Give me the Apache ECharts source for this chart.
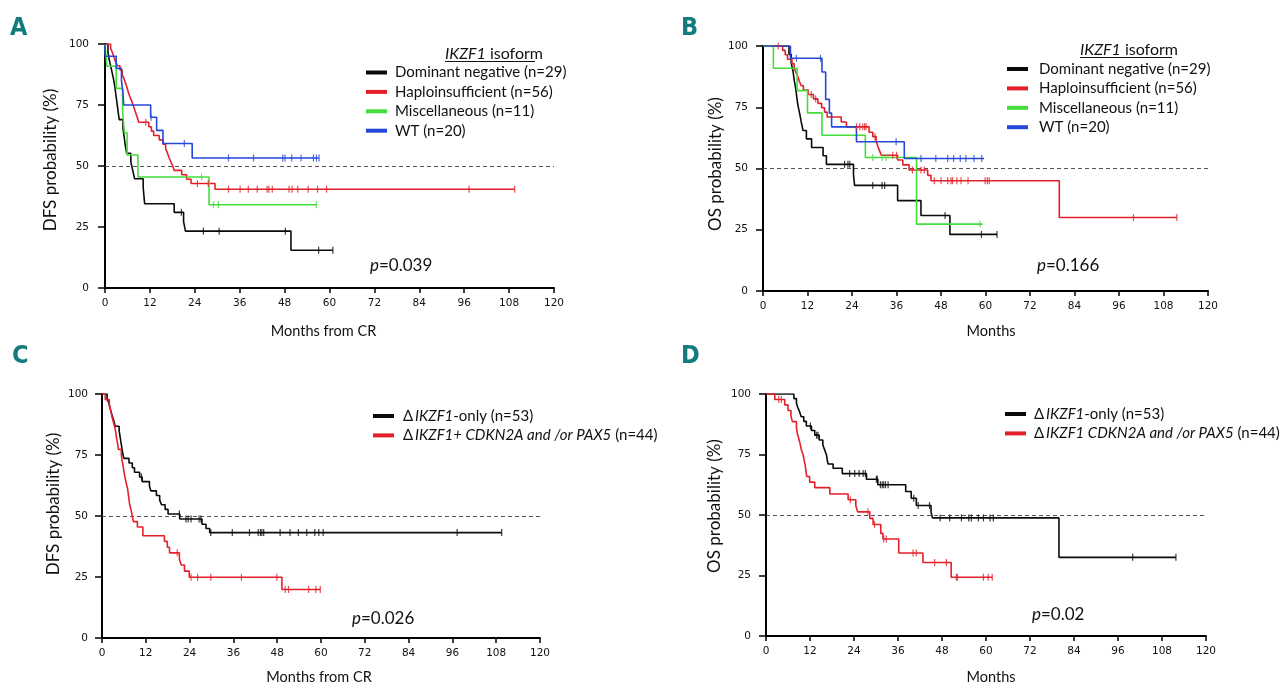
<!DOCTYPE html>
<html><head><meta charset="utf-8">
<script src="https://cdn.jsdelivr.net/npm/echarts@6/dist/echarts.min.js"></script>
<style>html,body{margin:0;padding:0;background:#fff}#c{width:1280px;height:694px}</style>
</head><body><div id="c"></div>
<script>
// ---------- axis ticks ----------
const xTicks = [0,12,24,36,48,60,72,84,96,108,120];
const yTicks = [0,25,50,75,100];

// ---------- Panel A: DFS by IKZF1 isoform  [months, survival %] ----------
const A_dn = [[0,100],[0.8,96.6],[1.2,93.1],[1.7,89.7],[2.2,86.2],[2.6,82.8],[2.9,79.3],[3.2,75.9],[3.5,72.4],[3.8,69.0],[4.8,65.5],[5.1,62.1],[5.4,58.6],[5.8,55.2],[6.9,51.7],[7.4,48.3],[7.9,44.8],[10.2,41.4],[10.4,37.9],[10.6,34.5],[18.5,31.0],[21.0,27.2],[21.5,23.3],[49.7,15.5],[60.9,15.5]];
const A_dn_cens = [20.4,26.3,30.5,48.2,57.1,60.9];
const A_hap = [[0,100],[1.5,98.2],[2.0,96.4],[2.4,94.6],[2.8,92.9],[3.3,91.1],[4.0,89.3],[4.6,87.5],[5.1,85.7],[5.5,83.9],[5.9,82.1],[6.2,80.4],[6.6,78.6],[7.1,76.8],[7.5,75.0],[7.9,73.2],[8.3,71.4],[8.7,69.6],[9.0,67.9],[11.7,66.1],[12.4,64.3],[13.0,62.5],[14.5,60.7],[15.5,58.9],[16.2,57.1],[16.7,55.3],[17.1,53.5],[17.6,51.7],[18.1,50.0],[18.5,48.2],[20.5,46.4],[21.8,44.6],[23.0,42.8],[29.4,40.5],[109.5,40.5]];
const A_hap_cens = [10.9,24.7,27.6,33.0,36.1,38.3,40.7,43.3,43.8,44.7,49.2,50.0,51.5,54.3,56.8,59.2,97.3,109.5];
const A_misc = [[0,100],[0.5,90.9],[3.0,81.8],[4.7,72.7],[5.2,63.6],[5.9,54.5],[8.8,45.5],[27.8,34.1],[56.5,34.1]];
const A_misc_cens = [25.8,29.0,30.3,56.5];
const A_wt = [[0,100],[0.05,95.0],[3.0,90.0],[4.4,85.0],[4.8,80.0],[5.0,75.0],[12.2,70.0],[13.8,64.6],[15.5,59.2],[23.3,53.3],[57.2,53.3]];
const A_wt_cens = [12.3,21.2,33.0,39.7,47.5,48.1,49.9,52.4,55.7,56.5,57.2];

// ---------- Panel B: OS by IKZF1 isoform ----------
const B_dn = [[0,100],[7.0,96.6],[7.6,93.1],[8.1,89.7],[8.4,86.2],[8.8,82.8],[9.1,79.3],[9.4,75.9],[9.9,72.4],[10.3,69.0],[10.8,65.5],[11.7,62.1],[13.1,58.6],[16.2,55.2],[17.1,51.7],[24.4,47.4],[24.7,43.1],[36.3,36.9],[42.6,30.8],[50.4,23.1],[63.1,23.1]];
const B_dn_cens = [22.0,22.9,23.4,29.6,32.1,32.8,49.1,58.9,63.1];
const B_hap = [[0,100],[5.3,98.2],[6.0,96.4],[6.6,94.6],[7.8,92.8],[8.4,91.0],[8.9,89.2],[9.4,87.4],[9.8,85.6],[10.3,83.8],[10.9,82.0],[12.2,80.2],[13.6,78.4],[14.8,76.6],[15.8,74.8],[16.6,73.0],[17.3,71.0],[21.1,69.0],[22.5,67.0],[28.6,64.8],[29.6,63.0],[30.5,61.1],[31.0,59.0],[31.5,57.0],[31.9,55.4],[36.3,53.5],[37.7,51.5],[39.4,49.4],[44.4,47.2],[45.3,45.0],[79.9,30.0],[111.6,30.0]];
const B_hap_cens = [4.1,13.0,14.2,25.2,26.1,26.9,27.4,27.8,30.2,35.0,36.0,40.3,42.6,43.5,46.2,48.0,49.8,50.7,51.1,52.3,53.4,55.3,59.9,60.5,61.0,99.9,111.6];
const B_misc = [[0,100],[2.8,90.9],[9.2,81.8],[12.0,72.7],[15.9,63.6],[27.6,54.5],[41.4,27.3],[59.2,27.3]];
const B_misc_cens = [29.6,32.1,33.2,58.5];
const B_wt = [[0,100],[7.4,95.0],[15.9,89.4],[16.9,78.2],[17.9,72.6],[18.5,67.0],[25.2,60.9],[38.1,54.1],[59.6,54.1]];
const B_wt_cens = [9.0,15.5,35.9,42.6,46.6,49.8,51.4,53.2,54.7,56.9,59.0];

// ---------- Panel C: DFS by co-deletion ----------
const C_only = [[0,100],[1.4,98.1],[1.9,96.2],[2.2,94.3],[2.5,92.5],[2.9,90.6],[3.3,88.7],[3.6,86.8],[4.7,84.9],[4.9,83.0],[5.1,81.1],[5.3,79.2],[5.5,77.4],[5.7,75.5],[6.0,73.6],[7.4,71.7],[8.3,69.8],[8.9,67.9],[10.3,66.0],[11.0,64.1],[13.0,62.2],[13.4,60.3],[14.9,58.4],[15.8,56.5],[16.3,54.6],[17.3,52.7],[18.1,50.8],[21.3,48.8],[27.4,46.6],[28.5,44.9],[29.5,43.2],[109.5,43.2]];
const C_only_cens = [10.8,21.2,23.0,23.6,24.4,26.6,27.1,29.8,35.7,40.4,42.8,43.4,43.8,44.3,48.8,51.5,53.8,56.1,58.3,59.4,60.6,97.3,109.5];
const C_plus = [[0,100],[0.9,97.7],[2.0,95.5],[2.4,93.2],[2.7,90.9],[3.1,88.6],[3.5,86.4],[3.8,84.1],[4.0,81.8],[4.3,79.5],[4.5,77.3],[5.3,75.0],[5.5,72.7],[5.8,70.5],[6.0,68.2],[6.3,65.9],[6.6,63.6],[7.0,61.4],[7.2,59.1],[7.4,56.8],[7.6,54.5],[8.0,52.3],[8.3,50.0],[8.6,47.7],[9.7,45.5],[11.2,41.9],[17.1,39.6],[17.9,37.2],[18.5,34.9],[21.2,32.4],[21.7,29.9],[22.6,27.4],[23.9,24.9],[49.3,19.9],[59.8,19.9]];
const C_plus_cens = [20.6,24.4,26.2,29.8,38.2,47.9,50.2,51.1,56.6,58.6,59.8];

// ---------- Panel D: OS by co-deletion ----------
const D_only = [[0,100],[7.6,98.1],[8.3,96.2],[8.7,94.3],[9.2,92.5],[9.6,90.6],[10.3,88.7],[11.0,86.8],[12.4,84.9],[13.3,83.0],[14.5,81.0],[15.5,78.9],[16.0,76.9],[16.5,74.8],[16.7,72.8],[16.9,71.1],[18.3,69.3],[20.8,67.1],[27.4,64.8],[30.5,62.5],[38.1,59.7],[39.6,56.9],[41.0,53.9],[45.0,51.3],[45.4,48.8],[79.9,32.5],[111.8,32.5]];
const D_only_cens = [12.1,13.8,14.2,22.8,24.2,25.4,26.5,27.1,30.1,30.4,31.2,31.7,32.1,32.6,33.3,40.3,41.5,44.6,47.5,50.1,53.3,55.3,56.0,57.9,59.3,61.1,62.0,100.0,111.8];
const D_plus = [[0,100],[2.4,97.7],[5.1,95.5],[6.0,93.2],[6.8,90.9],[7.2,88.6],[8.3,86.3],[8.5,84.0],[8.9,81.8],[9.3,79.5],[9.6,77.2],[10.1,75.0],[10.4,72.7],[10.7,70.4],[10.9,68.1],[11.1,65.9],[11.9,63.6],[13.3,61.3],[17.4,58.7],[22.4,56.3],[24.5,53.8],[25.0,51.3],[28.3,48.6],[29.2,46.1],[31.3,42.4],[31.9,40.1],[36.2,34.3],[42.8,30.4],[50.5,24.3],[61.7,24.3]];
const D_plus_cens = [3.5,4.2,23.0,27.8,29.6,32.1,32.8,40.1,41.0,46.0,49.2,51.9,52.2,59.3,60.6,61.7];

// ---------- names ----------
const N_dn = 'Dominant negative (n=29)', N_hap = 'Haploinsufficient (n=56)', N_misc = 'Miscellaneous (n=11)', N_wt = 'WT (n=20)';
const N_only = 'ΔIKZF1-only (n=53)', N_plusC = 'ΔIKZF1+ CDKN2A and /or PAX5 (n=44)', N_plusD = 'ΔIKZF1 CDKN2A and /or PAX5 (n=44)';
const pValues = ['0.039','0.166','0.026','0.02'];

const COL = {black:'#0a0a0a', red:'#e3202a', green:'#45dd3a', blue:'#2548d8'};
const TEAL = '#137b7b';

function survAt(curve, t){ let s = curve[0][1]; for (const p of curve){ if (p[0] <= t) s = p[1]; } return s; }

const series = [];
function km(name, curve, cens, color, gi, withRef){
  const s = {type:'line', name, xAxisIndex:gi, yAxisIndex:gi, data:curve, step:'end', symbol:'none',
    lineStyle:{color, width:1.6}, itemStyle:{color}, silent:true, z:3};
  if (withRef) s.markLine = {silent:true, symbol:'none', label:{show:false},
    lineStyle:{type:[4,3], color:'#555', width:1}, data:[{yAxis:50}], z:1};
  series.push(s);
  series.push({type:'scatter', name:name+' ·censored', xAxisIndex:gi, yAxisIndex:gi,
    data:cens.map(t=>[t, survAt(curve,t)]), symbol:'rect', symbolSize:[1.2,7],
    itemStyle:{color}, silent:true, z:4});
}
km(N_dn, A_dn, A_dn_cens, COL.black, 0, true);
km(N_hap, A_hap, A_hap_cens, COL.red, 0);
km(N_misc, A_misc, A_misc_cens, COL.green, 0);
km(N_wt, A_wt, A_wt_cens, COL.blue, 0);
km(N_dn, B_dn, B_dn_cens, COL.black, 1, true);
km(N_hap, B_hap, B_hap_cens, COL.red, 1);
km(N_misc, B_misc, B_misc_cens, COL.green, 1);
km(N_wt, B_wt, B_wt_cens, COL.blue, 1);
km(N_only, C_only, C_only_cens, COL.black, 2, true);
km(N_plusC, C_plus, C_plus_cens, COL.red, 2);
km(N_only, D_only, D_only_cens, COL.black, 3, true);
km(N_plusD, D_plus, D_plus_cens, COL.red, 3);

const grids = [
  {left:105, top:44, width:449, height:244},
  {left:763, top:46, width:445, height:245},
  {left:102, top:394, width:438, height:244},
  {left:766, top:394, width:440, height:242}
];
const xNames = ['Months from CR','Months','Months from CR','Months'];
const xGaps = [36,33,32,34];
const xNamePad = [[0,12,0,0],[0,0,0,11],[0,4,0,0],[0,0,0,10]];
const yNames = ['DFS probability (%)','OS probability (%)','DFS probability (%)','OS probability (%)'];
const yGaps = [46,39,40,43];
const yNamePad = [[0,0,0,12],[0,0,0,9],[0,0,0,24],[0,0,0,18]];
const yLblMargin = [16,15,14,15];

const tickFont = {fontFamily:'DejaVu Sans', fontSize:10.5, color:'#111'};
const xAxis = grids.map((g,i)=>({type:'value', gridIndex:i, min:xTicks[0], max:xTicks[xTicks.length-1], interval:12,
  name:xNames[i], nameLocation:'middle', nameGap:xGaps[i], nameTextStyle:{fontFamily:'Lato', fontSize:14.5, color:'#111', padding:xNamePad[i]},
  axisLine:{show:true, lineStyle:{color:'#000', width:2}}, axisTick:{show:true, length:5, lineStyle:{color:'#000', width:1.5}},
  axisLabel:Object.assign({margin:10}, tickFont), splitLine:{show:false}}));
const yAxis = grids.map((g,i)=>({type:'value', gridIndex:i, min:yTicks[0], max:yTicks[yTicks.length-1], interval:25,
  name:yNames[i], nameLocation:'middle', nameRotate:90, nameGap:yGaps[i], nameTextStyle:{fontFamily:'Lato', fontSize:17, color:'#111', padding:yNamePad[i]},
  axisLine:{show:true, lineStyle:{color:'#000', width:2}}, axisTick:{show:true, length:7, lineStyle:{color:'#000', width:1.5}},
  axisLabel:Object.assign({margin:yLblMargin[i]}, tickFont), splitLine:{show:false}}));

const LF = {fontFamily:'Lato', fontSize:15, color:'#111'};
const richLeg = {n:Object.assign({}, LF), i:Object.assign({fontStyle:'italic'}, LF)};
const legFmt = {};
legFmt[N_only] = '{n|Δ\u2009}{i|IKZF1}{n|-only (n=53)}';
legFmt[N_plusC] = '{n|Δ\u2009}{i|IKZF1+ CDKN2A and /or PAX5}{n| (n=44)}';
legFmt[N_plusD] = '{n|Δ\u2009}{i|IKZF1 CDKN2A and /or PAX5}{n| (n=44)}';
function mkLegend(left, top, names, padL){
  return {left, top, padding:0, orient:'vertical', icon:'rect', itemWidth:21, itemHeight:4, itemGap:3.4, selectedMode:false,
    data:names, formatter:(nm)=> legFmt[nm] || nm,
    textStyle:Object.assign({lineHeight:16, padding:[0,0,0,padL], rich:richLeg}, LF)};
}
const legend = [
  mkLegend(366, 64.5, [N_dn,N_hap,N_misc,N_wt], 3),
  mkLegend(1007, 61, [N_dn,N_hap,N_misc,N_wt], 6),
  mkLegend(373, 408, [N_only,N_plusC], 4),
  mkLegend(1005, 406, [N_only,N_plusD], 3)
];

const letterStyle = {fontFamily:'DejaVu Sans Condensed', fontWeight:'bold', fontSize:25, fill:TEAL, verticalAlign:'middle', align:'left'};
function txt(x,y,text,extra){ return {type:'text', style:Object.assign({x, y, text, align:'left', verticalAlign:'middle'}, extra)}; }
const pRich = {i:{fontFamily:'Lato', fontSize:17, fontStyle:'italic', fill:'#111'}, n:{fontFamily:'Lato', fontSize:17, fill:'#111'}};
const tRich = {i:{fontFamily:'Lato', fontSize:16, fontStyle:'italic', fill:'#111'}, n:{fontFamily:'Lato', fontSize:16, fill:'#111'}};
const graphic = [
  txt(10,28,'A',letterStyle), txt(681,28,'B',letterStyle), txt(12,356,'C',letterStyle), txt(681,356,'D',letterStyle),
  txt(370,266,'{i|p}{n|='+pValues[0]+'}',{rich:pRich}),
  txt(1037,266,'{i|p}{n|='+pValues[1]+'}',{rich:pRich}),
  txt(352,619,'{i|p}{n|='+pValues[2]+'}',{rich:pRich}),
  txt(1032,615,'{i|p}{n|='+pValues[3]+'}',{rich:pRich}),
  txt(445,54,'{i|IKZF1}{n| isoform}',{rich:tRich}),
  txt(1080,50,'{i|IKZF1}{n| isoform}',{rich:tRich}),
  {type:'line', shape:{x1:445,y1:61.5,x2:535,y2:61.5}, style:{stroke:'#111', lineWidth:1}},
  {type:'line', shape:{x1:1080,y1:57.5,x2:1172,y2:57.5}, style:{stroke:'#111', lineWidth:1}}
];

const chart = echarts.init(document.getElementById('c'));
chart.setOption({animation:false, backgroundColor:'#fff', grid:grids, xAxis, yAxis, legend, series, graphic});
</script></body></html>
